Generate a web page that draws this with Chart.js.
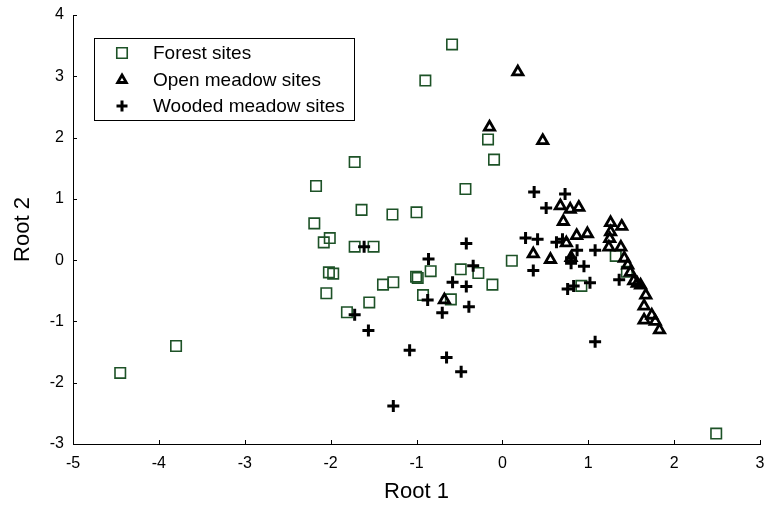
<!DOCTYPE html>
<html>
<head>
<meta charset="utf-8">
<script src="https://cdn.jsdelivr.net/npm/chart.js@4/dist/chart.umd.min.js"></script>
<style>
  html, body { margin: 0; padding: 0; background: #fff; overflow: hidden; }
  #wrap { width: 765px; height: 508px; }
</style>
</head>
<body>
<div id="wrap"><canvas id="myChart"></canvas></div>
<script>
// values
const forestX = [-4.45, -3.80, -2.17, -1.72, -1.64, -2.19, -2.08, -2.01, -1.72, -1.50,
  -2.02, -1.97, -2.05, -1.81, -1.55, -1.39, -1.27, -1.28, -1.00, -1.005,
  -0.986, -0.835, -0.924, -0.60, -0.485, -0.28, -0.116, -0.586, -0.897, -0.167,
  -0.097, -0.43, 0.11, 0.92, 1.32, 1.45, 2.49];
const forestY = [-1.84, -1.40, 1.21, 1.60, 0.82, 0.60, 0.29, 0.36, 0.22, 0.22,
  -0.20, -0.22, -0.54, -0.85, -0.69, -0.40, -0.36, 0.745, 0.78, -0.27,
  -0.29, -0.18, -0.57, -0.64, -0.15, -0.21, -0.40, 3.52, 2.93, 1.97,
  1.64, 1.16, -0.01, -0.42, 0.07, -0.19, -2.83];

const openX = [0.18, -0.15, 0.47, 0.675, 0.79, 0.89, 0.71, 0.865, 0.99, 0.745,
  0.36, 0.56, 0.80, 1.26, 1.39, 1.26, 1.25, 1.24, 1.38, 1.42,
  1.46, 1.49, 1.53, 1.57, 1.61, 1.67, 1.65, 1.65, 1.74, 1.78,
  1.83, -0.675];
const openY = [3.07, 2.17, 1.95, 0.885, 0.83, 0.86, 0.63, 0.40, 0.43, 0.28,
  0.10, 0.01, 0.04, 0.61, 0.55, 0.46, 0.35, 0.21, 0.21, 0.03,
  -0.08, -0.20, -0.34, -0.38, -0.41, -0.57, -0.75, -0.98, -0.90, -1.00,
  -1.14, -0.65];

const woodedX = [0.37, 0.73, 0.51, 0.27, 0.41, 0.63, 0.70, 0.87, 1.08, 0.80,
  0.80, 0.95, 0.36, 0.76, 0.83, 1.02, 1.36, 1.08, -1.61, -0.42,
  -0.86, -0.34, -0.58, -0.42, -0.87, -0.39, -0.70, -1.72, -1.56, -1.08,
  -0.65, -0.48, -1.27];
const woodedY = [1.11, 1.08, 0.85, 0.36, 0.34, 0.29, 0.34, 0.16, 0.16, 0.04,
  -0.05, -0.10, -0.17, -0.47, -0.42, -0.37, -0.32, -1.33, 0.22, 0.27,
  0.02, -0.09, -0.36, -0.43, -0.65, -0.76, -0.86, -0.89, -1.15, -1.47,
  -1.59, -1.82, -2.38];

const seriesNames = ["Forest sites", "Open meadow sites", "Wooded meadow sites"];
const xTickLabels = ["-5", "-4", "-3", "-2", "-1", "0", "1", "2", "3"];
const yTickLabels = ["-3", "-2", "-1", "0", "1", "2", "3", "4"];

const FONT = "'Liberation Sans', Arial, Helvetica, sans-serif";
const green = "#1d5227";

function pts(xs, ys) {
  return xs.map((x, i) => ({ x: x, y: ys[i] }));
}

// inward tick marks on the two axes
const innerTicks = {
  id: "innerTicks",
  afterDraw(chart) {
    const c = chart.ctx;
    const xs = chart.scales.x;
    const ys = chart.scales.y;
    c.save();
    c.strokeStyle = "#000";
    c.lineWidth = 1;
    c.beginPath();
    xs.ticks.forEach((t) => {
      const px = Math.round(xs.getPixelForValue(t.value)) + 0.5;
      c.moveTo(px, ys.bottom);
      c.lineTo(px, ys.bottom - 4);
    });
    ys.ticks.forEach((t) => {
      const py = Math.round(ys.getPixelForValue(t.value)) + 0.5;
      c.moveTo(xs.left, py);
      c.lineTo(xs.left + 4, py);
    });
    c.stroke();
    c.restore();
  },
};

// boxed legend inside the plot
const boxLegend = {
  id: "boxLegend",
  afterDraw(chart) {
    const c = chart.ctx;
    c.save();
    c.strokeStyle = "#000";
    c.lineWidth = 1;
    c.strokeRect(94.5, 38.5, 260, 82);
    c.font = "19px " + FONT;
    c.fillStyle = "#000";
    c.textBaseline = "middle";
    const rows = [53, 80, 106];
    chart.data.datasets.forEach((ds, i) => {
      c.strokeStyle = ds.borderColor;
      c.fillStyle = "rgba(0,0,0,0)";
      c.lineWidth = ds.borderWidth;
      Chart.helpers.drawPoint(c, {
        pointStyle: ds.pointStyle,
        radius: ds.legendRadius,
        borderWidth: ds.borderWidth,
        rotation: 0,
      }, 122, rows[i]);
      c.fillStyle = "#000";
      c.fillText(seriesNames[i], 153, rows[i] + 1);
    });
    c.restore();
  },
};

new Chart(document.getElementById("myChart"), {
  type: "scatter",
  data: {
    datasets: [
      {
        label: seriesNames[0],
        data: pts(forestX, forestY),
        pointStyle: "rect",
        pointRadius: 7.4,
        legendRadius: 7.4,
        borderColor: green,
        backgroundColor: "rgba(0,0,0,0)",
        borderWidth: 1.6,
        order: 3,
      },
      {
        label: seriesNames[1],
        data: pts(openX, openY),
        pointStyle: "triangle",
        pointRadius: 5.9,
        legendRadius: 5,
        borderColor: "#000",
        backgroundColor: "rgba(0,0,0,0)",
        borderWidth: 2.8,
        order: 2,
      },
      {
        label: seriesNames[2],
        data: pts(woodedX, woodedY),
        pointStyle: "cross",
        pointRadius: 6,
        legendRadius: 5.5,
        borderColor: "#000",
        backgroundColor: "#000",
        borderWidth: 3,
        order: 1,
      },
    ],
  },
  plugins: [innerTicks, boxLegend],
  options: {
    responsive: true,
    maintainAspectRatio: false,
    animation: false,
    events: [],
    layout: { autoPadding: false, padding: { top: 15, right: 5, left: 0, bottom: 0 } },
    plugins: {
      legend: { display: false },
      tooltip: { enabled: false },
    },
    scales: {
      x: {
        type: "linear",
        min: -5,
        max: 3,
        afterFit: (s) => { s.height = 64; s.paddingLeft = 0; s.paddingRight = 0; },
        grid: { display: true, drawOnChartArea: false, drawTicks: false },
        border: { display: true, color: "#000", width: 1 },
        ticks: {
          stepSize: 1,
          padding: 10,
          color: "#000",
          font: { family: FONT, size: 16 },
          callback: (v) => xTickLabels[Math.round(v) + 5],
        },
        title: {
          display: true,
          text: "Root 1",
          color: "#000",
          font: { family: FONT, size: 22 },
          padding: { top: 0, bottom: 3 },
        },
      },
      y: {
        type: "linear",
        min: -3,
        max: 4,
        afterFit: (s) => { s.width = 73; s.paddingTop = 0; s.paddingBottom = 0; },
        grid: { display: true, drawOnChartArea: false, drawTicks: false },
        border: { display: true, color: "#000", width: 1 },
        ticks: {
          stepSize: 1,
          padding: 9,
          color: "#000",
          font: { family: FONT, size: 16 },
          callback: (v) => yTickLabels[Math.round(v) + 3],
        },
        title: {
          display: true,
          text: "Root 2",
          color: "#000",
          font: { family: FONT, size: 22 },
          padding: { top: 10, bottom: 0 },
        },
      },
    },
  },
});
</script>
</body>
</html>
